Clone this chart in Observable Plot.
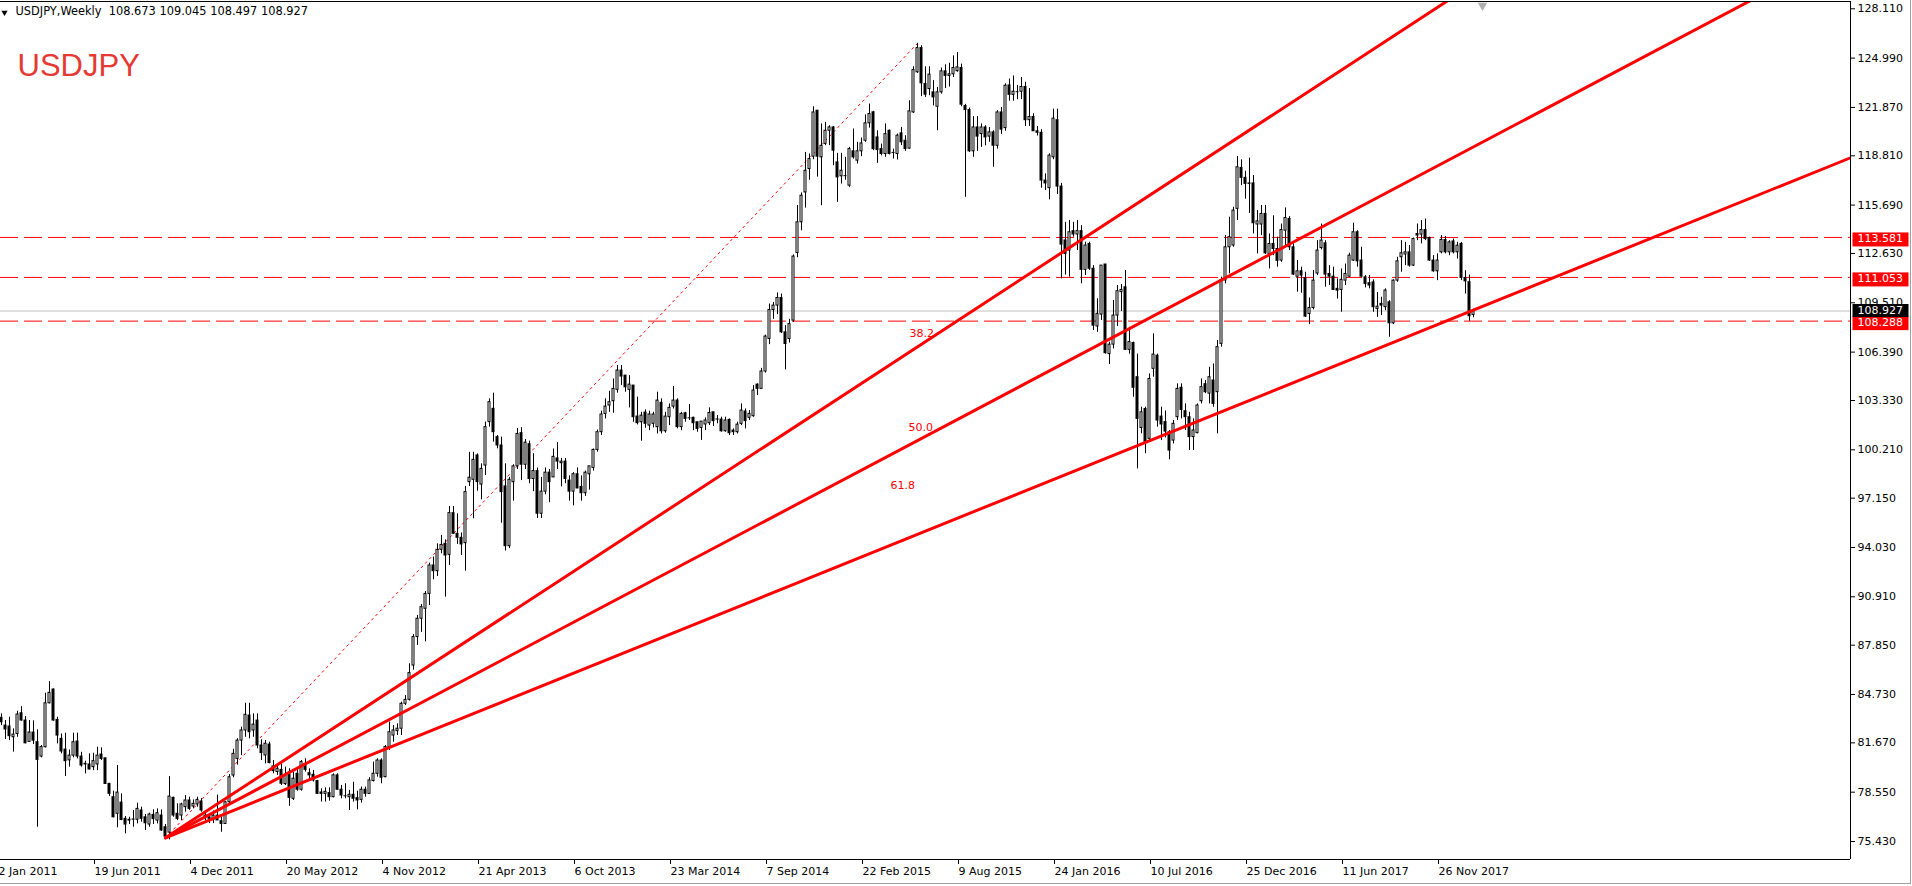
<!DOCTYPE html>
<html><head><meta charset="utf-8">
<script src="https://cdn.jsdelivr.net/npm/d3@7"></script>
<script src="https://cdn.jsdelivr.net/npm/@observablehq/plot@0.6"></script>
<style>
html,body{margin:0;padding:0;background:#fff;overflow:hidden}
svg text{white-space:pre}
</style>
</head><body><div id="chart"></div>
<script>
const symbolName = "USDJPY";
const headerText = "USDJPY,Weekly  108.673 109.045 108.497 108.927";

// weekly bars, index 0 = week of 2 Jan 2011
const opens = [
81.3,83.19,82.70,82.64,81.96,82.17,83.48,83.02,81.67,82.26,
81.65,80.74,81.33,84.11,84.98,83.06,81.86,81.18,80.50,80.80,
81.69,80.74,80.28,80.24,80.07,80.24,80.87,80.63,79.01,78.17,
77.12,77.83,76.80,76.74,76.75,76.74,77.33,76.90,76.44,77.05,
76.69,77.01,76.27,75.93,78.13,77.12,77.01,77.54,77.96,77.58,
77.71,77.90,77.00,76.90,76.80,77.00,76.65,76.48,77.85,79.54,
80.59,81.75,82.39,83.33,82.39,83.02,81.44,80.81,81.50,80.12,
79.76,79.90,79.00,79.61,78.07,79.65,78.64,80.28,79.69,79.59,
79.19,78.47,78.38,78.43,78.17,79.55,78.64,78.26,78.17,78.32,
78.11,78.00,78.64,78.38,79.19,79.65,80.49,79.44,81.34,82.07,
82.35,82.50,84.08,84.33,86.50,88.30,89.46,90.09,91.03,92.83,
92.47,93.82,94.20,93.50,96.14,94.83,94.58,94.24,98.10,98.25,
99.79,97.95,99.15,101.90,102.74,100.95,100.42,97.83,94.05,98.10,
99.10,101.20,99.20,100.50,98.30,98.80,96.10,97.50,98.70,98.40,
99.60,99.30,99.40,98.20,97.50,98.60,97.80,97.40,98.60,99.00,
100.14,101.26,102.42,102.95,103.22,103.94,105.16,104.84,103.94,104.21,
102.25,101.89,102.50,101.68,101.79,101.58,103.12,101.32,102.21,102.88,
103.26,101.58,102.46,102.17,102.17,101.89,101.53,101.75,101.83,102.52,
102.06,102.06,101.32,102.04,101.36,101.26,101.79,102.57,102.17,102.27,
104.27,104.00,105.10,107.16,108.99,109.27,109.75,107.58,107.16,108.32,
112.60,114.54,116.43,117.91,118.69,121.60,118.65,119.50,120.33,120.54,
118.33,117.45,117.49,116.86,119.03,118.44,119.03,119.70,120.80,121.50,
119.91,119.17,118.86,120.33,118.96,118.86,120.17,119.70,119.20,121.49,
124.03,125.56,123.29,122.97,122.76,121.85,122.76,124.09,123.80,123.90,
124.10,124.30,121.90,121.64,119.03,120.54,120.12,120.54,119.96,120.23,
119.38,121.49,120.50,123.20,122.60,122.80,122.80,123.10,121.00,121.20,
120.30,120.20,117.18,116.70,118.65,121.00,116.80,113.39,112.75,113.98,
113.77,113.98,111.53,113.17,111.60,107.95,108.70,111.87,106.20,106.80,
108.64,110.12,110.43,106.47,106.90,104.74,101.53,102.73,100.84,105.27,
106.10,102.25,101.90,101.26,100.73,102.21,104.07,102.59,102.21,100.95,
101.20,103.22,104.30,103.70,104.53,103.79,106.85,110.86,112.96,113.07,
115.39,117.98,117.35,116.97,117.00,114.40,114.40,115.07,112.54,113.17,
112.85,112.12,114.01,114.75,112.96,111.10,111.44,111.00,108.74,109.12,
111.30,112.91,113.21,111.27,111.10,110.33,110.26,110.85,111.10,112.12,
113.91,112.12,111.06,110.69,110.74,109.06,109.38,109.17,109.48,108.15,
110.85,112.33,112.50,112.64,111.80,113.80,113.76,114.05,113.55,112.12,
111.44,112.64,113.42,112.64,113.33,112.64,113.17,111.02,110.75,108.673];
const highs = [
83.6,83.44,83.02,83.23,82.49,83.61,83.90,83.27,83.02,83.00,
82.43,81.44,84.75,85.48,85.02,83.23,82.17,82.22,81.16,82.22,
82.22,81.01,80.45,80.91,80.95,81.33,81.29,80.63,79.05,78.55,
80.17,78.38,76.95,76.90,77.33,77.79,77.54,77.07,77.16,77.37,
77.43,77.37,76.44,79.47,78.17,77.75,77.79,78.27,78.17,78.00,
78.17,78.08,77.30,77.10,77.30,78.30,76.90,77.90,79.60,81.20,
81.87,82.60,84.11,84.11,83.44,83.44,81.80,81.76,81.65,80.49,
80.18,80.28,80.07,79.97,79.76,79.97,80.49,80.60,79.97,79.86,
79.23,78.70,78.76,78.76,79.65,79.65,78.91,79.02,78.60,79.12,
78.55,78.81,78.81,79.40,80.39,80.60,80.60,81.44,82.92,82.70,
82.81,84.18,84.60,86.61,88.46,89.67,90.36,91.18,92.98,93.36,
94.20,94.73,94.45,96.56,96.56,96.10,94.88,97.83,99.99,99.99,
99.89,99.26,101.90,103.37,103.73,101.05,100.95,99.26,98.40,99.20,
101.50,101.55,100.80,100.70,99.90,99.00,98.40,99.00,98.90,100.20,
100.60,99.60,99.60,98.50,98.70,99.00,98.50,98.80,99.10,100.20,
101.40,102.59,103.37,103.85,104.63,105.48,105.48,104.84,104.84,104.21,
103.48,102.52,102.67,102.59,102.52,103.79,103.37,102.52,103.05,104.15,
103.37,102.52,102.52,103.01,102.21,101.89,101.93,102.17,102.80,102.52,
102.31,102.21,102.21,102.10,101.47,101.89,103.05,102.73,102.63,104.21,
104.32,105.30,107.40,109.37,109.47,110.07,110.00,108.00,108.40,112.47,
115.60,116.40,118.96,118.86,121.85,121.60,120.76,120.86,120.65,120.60,
118.90,118.90,118.65,119.28,120.44,119.60,119.87,121.33,122.02,121.56,
120.33,119.49,120.76,120.38,119.17,120.12,120.54,120.02,122.23,124.38,
125.86,125.71,124.38,124.38,123.50,123.07,124.30,124.50,124.60,125.07,
125.28,124.55,122.00,121.77,121.22,121.22,120.76,120.65,120.54,120.33,
121.60,121.80,123.30,123.60,123.80,123.20,123.70,123.40,123.00,121.40,
120.60,120.40,117.60,118.87,121.70,121.70,117.00,114.54,114.65,114.54,
114.65,114.33,113.28,113.28,111.80,109.70,111.80,111.87,106.95,109.60,
110.54,110.60,111.49,107.90,106.96,106.20,102.84,102.84,104.95,107.48,
106.20,102.84,102.60,101.37,102.00,104.32,104.32,103.05,102.52,102.10,
103.05,104.63,104.53,105.37,105.58,107.06,111.07,113.70,114.86,115.49,
118.70,118.49,117.77,118.60,117.50,115.28,115.60,115.60,113.80,114.95,
113.60,114.43,115.45,114.90,113.17,112.12,111.70,111.38,109.75,111.49,
113.38,114.43,113.38,111.80,111.70,110.96,111.59,111.90,112.58,114.48,
114.01,112.96,111.17,111.17,110.90,110.10,109.80,110.33,109.58,110.90,
112.33,113.38,113.27,113.07,113.55,114.43,114.65,114.75,113.60,112.43,
112.54,113.70,113.64,113.38,113.48,113.27,113.27,111.48,111.20,109.045];
const lows = [
81.2,82.70,81.82,81.75,81.02,81.96,82.98,81.54,81.65,81.50,
76.27,80.66,81.29,84.07,82.98,81.54,80.91,79.48,80.07,80.66,
80.59,80.07,79.64,79.90,79.85,79.85,80.49,78.97,78.21,76.86,
76.23,76.69,75.85,76.44,76.27,76.48,76.59,76.06,76.27,76.44,
76.48,76.02,75.64,75.47,76.90,76.69,76.69,77.22,77.33,77.43,
77.54,77.22,76.60,76.50,76.50,76.70,75.95,76.45,77.70,79.40,
80.20,80.80,81.96,81.86,81.96,81.23,80.49,80.28,80.28,79.65,
79.55,78.91,78.91,77.59,77.96,78.55,78.55,79.76,79.23,79.13,
78.34,77.86,77.86,77.92,78.13,78.60,78.07,78.07,77.33,77.86,
77.37,77.80,78.17,78.34,79.13,79.44,79.02,79.40,81.13,81.65,
82.07,82.07,83.97,84.25,86.20,87.77,88.60,88.00,90.30,91.92,
92.13,93.57,90.83,92.83,94.79,94.16,93.46,92.47,97.83,95.78,
97.53,96.98,98.52,101.58,100.63,100.21,95.50,93.74,93.90,96.90,
98.90,98.20,98.90,98.00,97.50,95.80,95.80,97.30,96.80,98.40,
98.90,97.80,98.00,96.90,96.60,97.70,96.90,97.20,97.60,98.80,
100.00,101.05,102.10,102.52,102.46,103.73,104.21,103.79,102.80,101.89,
101.72,100.69,101.51,101.36,101.53,101.15,101.15,101.20,101.68,102.73,
101.47,101.36,101.89,102.00,101.36,101.26,100.74,101.36,101.68,101.62,
101.79,101.26,101.26,101.05,101.05,101.15,101.68,101.47,102.00,102.21,
103.58,104.00,105.00,106.80,108.40,108.70,107.50,105.20,106.90,108.20,
112.30,114.00,115.44,117.20,118.50,117.40,115.59,119.39,119.39,118.12,
115.80,116.96,117.20,116.75,118.54,118.23,118.69,119.60,120.50,119.07,
118.27,118.75,118.65,118.80,118.54,118.48,119.39,119.03,119.17,121.43,
123.96,122.49,122.44,122.55,121.90,120.33,122.65,123.00,123.10,123.70,
124.03,121.85,116.12,118.96,118.65,119.03,119.28,119.38,119.60,118.02,
119.17,120.10,120.30,122.20,122.20,122.30,122.30,120.60,120.60,120.30,
120.00,116.70,116.55,115.96,118.50,116.30,110.96,111.20,111.07,113.60,
112.75,110.65,111.17,111.49,107.69,107.58,108.33,106.20,105.55,106.53,
107.95,108.90,106.43,106.20,103.47,98.94,101.16,99.90,100.63,104.74,
101.58,100.73,100.90,99.51,100.52,102.00,102.10,101.37,100.10,100.10,
101.16,103.05,103.70,103.05,102.84,101.16,106.64,110.65,111.28,112.96,
114.65,116.86,116.00,115.10,113.80,112.54,113.70,112.50,111.59,112.43,
111.70,112.01,113.06,112.75,111.17,110.12,110.05,108.53,108.07,109.00,
111.17,112.79,110.43,110.54,110.22,109.69,108.85,110.54,111.06,112.07,
111.70,111.06,110.39,110.33,108.85,108.53,108.64,108.95,107.27,108.07,
110.75,111.38,111.80,111.70,111.74,113.38,113.17,113.38,112.07,111.38,
110.85,112.54,112.54,112.43,112.54,112.22,110.85,110.00,108.28,108.497];
const closes = [
83.2,82.91,82.45,82.03,82.13,83.40,83.02,81.58,82.26,81.75,
80.53,81.34,84.11,84.77,83.02,82.07,81.06,80.45,80.80,81.65,
80.74,80.17,80.24,79.92,80.45,80.80,80.59,79.01,78.38,76.90,
78.46,76.73,76.44,76.69,76.76,77.43,76.80,76.52,77.07,76.78,
77.16,76.06,75.68,78.21,77.01,76.80,77.71,77.96,77.43,77.75,
78.00,77.33,76.90,76.80,77.00,76.70,76.48,77.85,79.43,80.91,
81.75,82.39,83.38,82.28,82.76,81.44,80.96,81.55,80.33,79.82,
79.97,79.02,79.55,78.13,79.34,78.64,80.39,79.90,79.55,79.23,
78.38,78.38,78.51,78.17,79.55,78.64,78.28,78.26,78.32,78.07,
77.96,78.64,78.38,79.23,79.65,80.49,79.40,81.34,82.28,82.39,
82.50,84.08,84.33,86.02,88.30,89.46,90.19,91.03,92.83,92.47,
93.82,94.13,93.46,96.14,94.83,94.58,94.16,97.47,98.38,99.51,
98.10,98.94,101.58,103.16,101.26,100.42,97.47,94.05,98.25,99.10,
101.15,99.20,100.60,98.30,98.80,96.10,97.50,98.70,98.10,99.70,
99.40,99.40,98.30,97.50,98.60,97.70,97.40,98.70,99.10,100.14,
101.26,102.38,102.88,103.16,104.00,105.16,104.78,104.10,104.27,102.21,
101.83,102.31,101.79,102.38,102.38,103.26,101.32,102.25,102.80,103.26,
101.58,102.42,102.10,102.17,101.83,101.47,101.93,102.00,102.48,101.96,
102.07,101.32,102.00,101.20,101.26,101.74,102.63,101.96,102.42,103.90,
104.00,105.10,107.31,108.99,109.27,109.75,107.58,106.84,108.10,112.37,
114.54,116.22,117.80,118.54,121.49,118.69,119.38,120.33,120.54,119.07,
117.38,117.80,117.49,119.17,118.65,119.03,119.53,120.80,121.39,119.17,
119.11,118.86,120.12,118.86,118.96,120.02,119.60,119.17,121.56,124.17,
125.56,123.33,122.61,123.88,122.44,122.76,124.09,123.80,123.90,124.30,
124.34,121.98,121.64,119.03,120.54,119.96,120.54,119.91,120.23,119.38,
121.49,120.40,123.18,122.60,122.80,122.80,123.10,121.00,121.20,120.30,
120.20,117.18,117.00,118.76,121.10,116.80,113.13,112.54,113.91,113.77,
113.98,111.53,113.07,111.60,108.00,108.75,111.80,106.26,106.80,108.64,
110.18,110.26,106.47,106.96,104.07,102.10,102.52,100.63,104.63,106.17,
102.00,101.75,101.30,100.10,101.79,104.00,102.67,102.21,100.95,101.37,
102.95,104.11,103.79,104.74,103.05,106.64,110.86,112.96,113.60,115.28,
118.02,117.35,116.97,117.00,114.48,114.60,115.07,112.58,113.17,112.85,
112.10,114.05,114.81,112.96,111.23,111.44,111.17,108.57,109.12,110.85,
112.75,113.38,111.23,111.10,110.26,110.22,110.90,111.27,112.43,113.91,
112.07,111.10,110.64,110.54,109.17,109.20,109.27,110.22,108.15,110.85,
112.07,112.58,112.64,111.80,113.48,113.70,114.05,113.48,112.12,111.44,
112.12,113.42,112.64,113.27,112.64,113.06,111.02,110.80,108.60,108.927];

const priceTicks = [128.11,124.99,121.87,118.81,115.69,112.63,109.51,106.39,103.33,100.21,97.15,94.03,90.91,87.85,84.73,81.67,78.55,75.43];
const dateTickWeeks = [0,24,48,72,96,120,144,168,192,216,240,264,288,312,336,360];
const dateTickLabels = ["2 Jan 2011","19 Jun 2011","4 Dec 2011","20 May 2012","4 Nov 2012","21 Apr 2013","6 Oct 2013","23 Mar 2014","7 Sep 2014","22 Feb 2015","9 Aug 2015","24 Jan 2016","10 Jul 2016","25 Dec 2016","11 Jun 2017","26 Nov 2017"];
const levelPrices = [113.581, 111.053, 108.288];
const bidPrice = 108.927;
// Fibonacci fan: anchor low and anchor high (week index, price)
const fanFrom = [42, 75.6];
const fanTo = [230, 125.86];
const fanLevels = [38.2, 50.0, 61.8];
const fanLabelWeeks = [228, 227.75, 223.25];
const fanLabelPrices = [107.51, 101.57, 97.90];

// ---- build ----
const RED = "#ff0000";
const candles = opens.map((o, i) => ({i, open: o, high: highs[i], low: lows[i], close: closes[i]}));
const bears = candles.filter(d => d.close < d.open);
const bulls = candles.filter(d => d.close > d.open);
const dojis = candles.filter(d => d.close === d.open);
const xDomain = [0.75, 463.25];
const yDomain = [74.228, 128.508];

const fanLines = fanLevels.flatMap(L => {
  const pAt2 = fanTo[1] - L / 100 * (fanTo[1] - fanFrom[1]);
  const slope = (pAt2 - fanFrom[1]) / (fanTo[0] - fanFrom[0]);
  const iEnd = xDomain[1] + 20;
  return [{L, i: fanFrom[0], p: fanFrom[1]}, {L, i: iEnd, p: fanFrom[1] + slope * (iEnd - fanFrom[0])}];
});
const fanLabels = fanLevels.map((L, k) => ({i: fanLabelWeeks[k], p: fanLabelPrices[k], t: L.toFixed(1)}));
const tickLabel = new Map(dateTickWeeks.map((w, k) => [w, dateTickLabels[k]]));
const levelBoxes = levelPrices.map(p => ({p, kind: "level-box"}));
const bidBoxes = [{p: bidPrice, kind: "bid-box"}];

const chart = Plot.plot({
  width: 1912, height: 886,
  marginLeft: 0, marginRight: 62, marginTop: 1, marginBottom: 27,
  style: {fontFamily: "'DejaVu Sans', sans-serif", fontSize: "11px", background: "#fff", color: "#000"},
  x: {type: "linear", domain: xDomain, axis: null},
  y: {type: "linear", domain: yDomain, axis: null},
  marks: [
    Plot.ruleY(levelPrices, {stroke: RED, strokeWidth: 1, strokeDasharray: "18,6"}),
    Plot.ruleY([bidPrice], {stroke: "#c0c0c0", strokeWidth: 1}),
    Plot.line([{i: fanFrom[0], p: fanFrom[1]}, {i: fanTo[0], p: fanTo[1]}], {x: "i", y: "p", stroke: RED, strokeWidth: 1, strokeDasharray: "2,4"}),
    Plot.ruleX(candles, {x: "i", y1: "low", y2: "high", stroke: "#000", strokeWidth: 1}),
    Plot.rect(bears, {x1: d => d.i - 0.375, x2: d => d.i + 0.375, y1: "open", y2: "close", fill: "#000", insetTop: -0.5, insetBottom: -0.5}),
    Plot.rect(bulls, {x1: d => d.i - 0.375, x2: d => d.i + 0.375, y1: "open", y2: "close", fill: "#fff", stroke: "#000", strokeWidth: 1, insetLeft: 0.5, insetRight: 0.5}),
    Plot.ruleY(dojis, {x1: d => d.i - 0.375, x2: d => d.i + 0.375, y: "close", stroke: "#000"}),
    Plot.line(fanLines, {x: "i", y: "p", z: "L", stroke: RED, strokeWidth: 3, clip: true}),
    Plot.text(fanLabels, {x: "i", y: "p", text: "t", fill: RED, textAnchor: "start", fontSize: 11}),
    // frame lines: top, bottom, right
    Plot.ruleY([yDomain[1], yDomain[0]], {stroke: "#000"}),
    Plot.ruleX([xDomain[1]], {stroke: "#000"}),
    Plot.axisY(priceTicks, {anchor: "right", tickSize: 4, tickPadding: 3, dy: 1, tickFormat: d => d.toFixed(3), label: null, fill: "#000", stroke: "#000"}),
    Plot.axisX(dateTickWeeks, {anchor: "bottom", tickSize: 5, tickPadding: 3, textAnchor: "start", dx: 1, tickFormat: d => tickLabel.get(d), label: null, fill: "#000", stroke: "#000"}),
    Plot.text(levelBoxes, {y: "p", text: d => d.p.toFixed(3), frameAnchor: "right", dx: 7, dy: 1, textAnchor: "start", fill: "#fff", ariaLabel: d => d.kind}),
    Plot.text(bidBoxes, {y: "p", text: d => d.p.toFixed(3), frameAnchor: "right", dx: 7, dy: -1, textAnchor: "start", fill: "#fff", ariaLabel: d => d.kind}),
    Plot.dot([0], {frameAnchor: "top-left", dx: 4, dy: 11, symbol: "triangle", rotate: 180, r: 2.3, fill: "#000", stroke: null}),
    Plot.text([headerText], {frameAnchor: "top-left", dx: 15, dy: 5, lineAnchor: "top", textAnchor: "start", fontSize: 11.4, fill: "#000"}),
    Plot.text([symbolName], {frameAnchor: "top-left", dx: 17, dy: 52, lineAnchor: "top", textAnchor: "start", fontSize: 31, fontFamily: "'Liberation Sans', Arial, sans-serif", fill: "#e53a33"}),
    Plot.dot([candles.length + 1.25], {x: d => d, frameAnchor: "top", dy: 4, symbol: "triangle", rotate: 180, r: 3.5, fill: "#b0b0b0", stroke: null})
  ]
});
document.getElementById("chart").appendChild(chart);

// colored boxes behind the right-axis price labels
const boxColor = {"level-box": RED, "bid-box": "#000"};
const svgNS = "http://www.w3.org/2000/svg";
chart.querySelectorAll("text[aria-label]").forEach(t => {
  const kind = t.getAttribute("aria-label");
  if (!(kind in boxColor)) return;
  const b = t.getBBox();
  const cy = b.y + b.height / 2 + 0.5;
  const r = document.createElementNS(svgNS, "rect");
  r.setAttribute("x", b.x - 5);
  r.setAttribute("y", Math.round(cy - 7));
  r.setAttribute("width", 56);
  r.setAttribute("height", kind === "bid-box" ? 13 : 14);
  r.setAttribute("fill", boxColor[kind]);
  if (t.getAttribute("transform")) r.setAttribute("transform", t.getAttribute("transform"));
  t.parentNode.insertBefore(r, t);
});
// window border lines of the terminal (right edge and bottom tab bar)
for (const [x1, y1, x2, y2] of [[1910.5, 0, 1910.5, 884], [0, 883.5, 1911, 883.5]]) {
  const l = document.createElementNS(svgNS, "line");
  l.setAttribute("x1", x1); l.setAttribute("y1", y1); l.setAttribute("x2", x2); l.setAttribute("y2", y2);
  l.setAttribute("stroke", "#a0a0a0");
  chart.appendChild(l);
}
</script>
</body></html>
